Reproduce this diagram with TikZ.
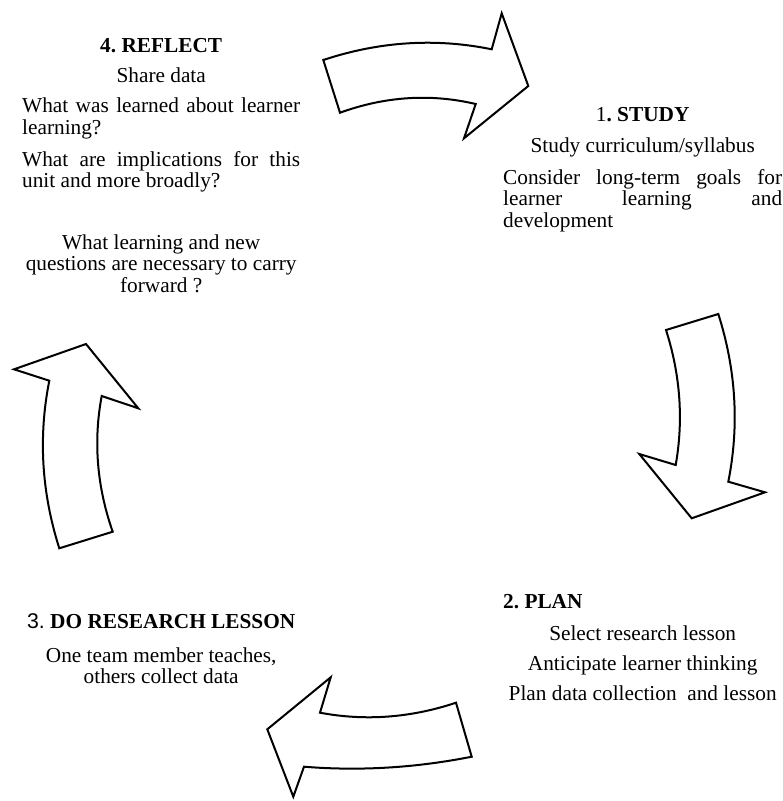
\documentclass[tikz,border=0pt]{standalone}
\usepackage{fontspec}
\setmainfont{Liberation Serif}
\setsansfont{Liberation Sans}
% a line set out to the full width, its word spaces stretched
\newcommand\fullline[2]{\makebox[#1][s]{\spaceskip=0.25em plus 1fil\relax #2}}
\begin{document}
\begin{tikzpicture}[x=1pt,y=-1pt,
  bentarrow/.style={draw=black,line width=2pt,line join=miter,fill=white},
  block/.style={inner sep=0pt,anchor=base west,align=center,
    font=\fontsize{21.3}{21.5}\selectfont,
    execute at begin node={\frenchspacing\spaceskip=0.25em\xspaceskip=0.25em\relax}}]
\useasboundingbox (0,0) rectangle (783,801);

% curved block arrows of the cycle
\draw[bentarrow] (323.3,60) .. controls (379.4,41.4) and (435.6,37.8) .. (491.7,49.3)
  -- (501.7,13.3) -- (528.3,86) -- (464,138.3) -- (475.7,104)
  .. controls (430.6,93.4) and (385.3,96.3) .. (340,112.7) -- cycle;
\draw[bentarrow] (718.3,314) .. controls (736.1,370) and (739.4,425.9) .. (728.3,481.7)
  -- (765,492.3) -- (691.7,518.3) -- (639.3,454) -- (675.7,465)
  .. controls (683.6,420) and (680.4,375) .. (666,330) -- cycle;
\draw[bentarrow] (471.7,756.7) .. controls (415.9,767.8) and (360,771.2) .. (304,766.7)
  -- (293.3,796.7) -- (267.3,729.3) -- (330.7,677.3) -- (320,712.7)
  .. controls (365.3,721.2) and (410.7,717.8) .. (456,702.7) -- cycle;
\draw[bentarrow] (59.3,548.3) .. controls (41.5,492.4) and (38.2,436.6) .. (49.3,380.7)
  -- (14,369.3) -- (86,344) -- (138.3,408.3) -- (101.7,396)
  .. controls (93.2,441.3) and (96.9,486.6) .. (112.7,531.7) -- cycle;

% stage texts
\node[block,text width=278pt] (reflect) at (22,52.5) {%
  \textbf{4. REFLECT}\\[8.5pt]
  Share data\\[8.5pt]
  \fullline{278pt}{What was learned about learner}\\
  \makebox[278pt][l]{learning?}\\[10.5pt]
  \fullline{278pt}{What are implications for this}\\
  \makebox[278pt][l]{unit and more broadly?}};
\node[block,text width=278pt] (carry) at (22,249) {%
  What learning and new\\
  questions are necessary to carry\\
  forward ?};
\node[block,text width=279pt] (study) at (503,121) {%
  1\textbf{. STUDY}\\[9.5pt]
  Study curriculum/syllabus\\[10.5pt]
  \fullline{279pt}{Consider long-term goals for}\\
  \fullline{279pt}{learner learning and}\\
  \makebox[279pt][l]{development}};
\node[block,text width=279pt] (plan) at (503,608) {%
  \makebox[279pt][l]{\textbf{2. PLAN}}\\[10.5pt]
  Select research lesson\\[8.5pt]
  Anticipate learner thinking\\[8.5pt]
  Plan data collection\ \ and lesson};
\node[block,text width=278pt] (dolesson) at (22,628) {%
  {\sffamily 3.} \textbf{DO RESEARCH LESSON}\\[12.5pt]
  One team member teaches,\\
  others collect data};
\end{tikzpicture}
\end{document}
